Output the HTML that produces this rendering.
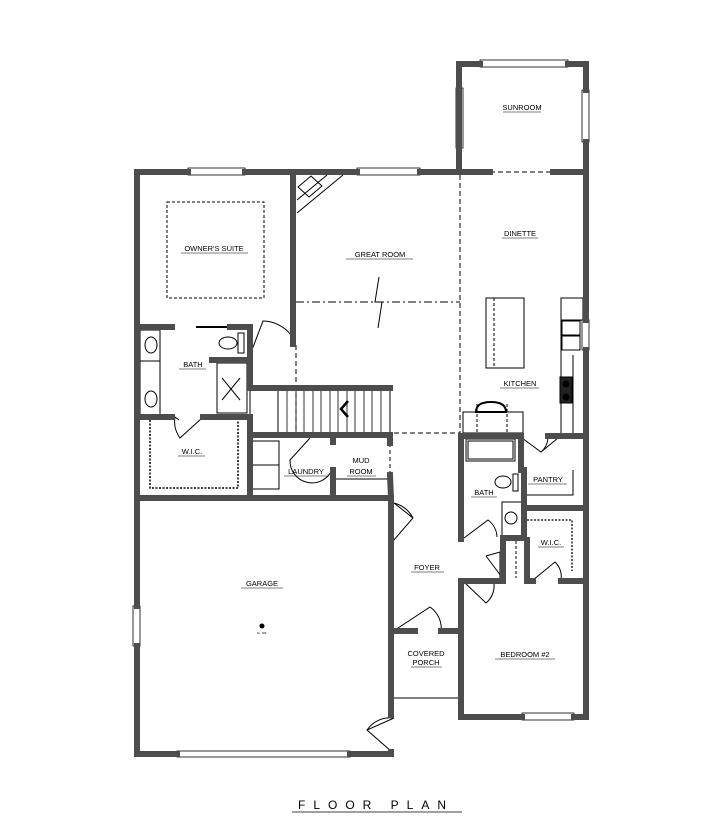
<!DOCTYPE html>
<html><head><meta charset="utf-8"><style>
html,body{margin:0;padding:0;background:#fff;}
svg{display:block;}
text{font-family:"Liberation Sans",sans-serif;font-size:7.5px;fill:#000;text-anchor:middle;}
</style></head><body>
<svg width="706" height="837" viewBox="0 0 706 837" xmlns="http://www.w3.org/2000/svg">
<g fill="none" stroke="#000" stroke-width="1">
  <line x1="296" y1="302" x2="460" y2="302" stroke-dasharray="8,3,2,3"/>
  <line x1="460" y1="175" x2="460" y2="434" stroke-dasharray="5,3"/>
  <line x1="394" y1="433" x2="460" y2="433" stroke-dasharray="5,3"/>
  <line x1="296" y1="345" x2="296" y2="433" stroke-dasharray="5,3"/>
  <rect x="167" y="202" width="97" height="96" stroke-dasharray="3,2"/>
  <line x1="490" y1="172" x2="553" y2="172" stroke-dasharray="5,3"/>
  <line x1="390" y1="443" x2="390" y2="475" stroke-dasharray="4,3"/>
  <polyline points="379,277 375,302 382,302 378,328"/>
  <polyline points="297,213 343,175"/><polyline points="297,200 327,175"/>
  <polygon points="298,187 311,176 322,186 309,197"/>
  <rect x="278" y="389" width="112" height="44"/>
  <rect x="250" y="389" width="28" height="44"/>
  <g stroke-width="0.8">
  <line x1="287" y1="389" x2="287" y2="433"/><line x1="296" y1="389" x2="296" y2="433"/><line x1="304" y1="389" x2="304" y2="433"/><line x1="313" y1="389" x2="313" y2="433"/><line x1="321" y1="389" x2="321" y2="433"/><line x1="330" y1="389" x2="330" y2="433"/><line x1="338" y1="389" x2="338" y2="433"/><line x1="347" y1="389" x2="347" y2="433"/><line x1="355" y1="389" x2="355" y2="433"/><line x1="364" y1="389" x2="364" y2="433"/><line x1="372" y1="389" x2="372" y2="433"/><line x1="381" y1="389" x2="381" y2="433"/>
  </g>
  <polyline points="348,401 341,409 348,417" stroke-width="2.5"/>
  <rect x="140" y="330" width="20" height="85"/>
  <line x1="140" y1="361" x2="160" y2="361"/>
  <ellipse cx="151" cy="345" rx="6" ry="8"/><ellipse cx="151" cy="399" rx="6" ry="8"/>
  <ellipse cx="228" cy="343" rx="9" ry="6"/><rect x="238" y="333" width="6" height="20"/>
  <rect x="217" y="363" width="30" height="50"/>
  <line x1="222" y1="378" x2="240" y2="400"/><line x1="240" y1="378" x2="222" y2="400"/>
  <line x1="196" y1="327" x2="230" y2="327" stroke-width="2"/>
  <polyline points="150,420 150,488 238,488 238,420" stroke-dasharray="2,1.5" stroke-width="1.5"/>
  <rect x="251" y="441" width="28" height="24"/><rect x="251" y="465" width="28" height="24"/>
  <line x1="335" y1="479" x2="390" y2="479"/>
  <rect x="486" y="298" width="38" height="70"/><line x1="494" y1="298" x2="494" y2="368" stroke-dasharray="3,2"/>
  <polyline points="561,298 561,433"/><polyline points="573,355 573,433"/>
  <rect x="561" y="298" width="22" height="22"/>
  <rect x="562" y="321" width="18" height="14"/><rect x="562" y="336" width="18" height="14"/>
  <rect x="560" y="377" width="12" height="26" fill="#222"/>
  <circle cx="566" cy="384" r="3" fill="#000"/><circle cx="566" cy="397" r="3" fill="#000"/>
  <rect x="463" y="412" width="60" height="21"/><line x1="477" y1="404" x2="477" y2="433" stroke-dasharray="3,2"/><line x1="507" y1="404" x2="507" y2="433" stroke-dasharray="3,2"/>
  <path d="M476,412 Q476,402 491,402 Q506,402 506,412 Z" stroke-width="2"/>
  <rect x="466" y="439" width="49" height="22"/><rect x="468" y="441" width="45" height="18"/>
  <ellipse cx="503" cy="482" rx="8" ry="6"/><rect x="513" y="474" width="5" height="17"/>
  <rect x="502" y="502" width="20" height="34"/><circle cx="511" cy="518" r="6"/>
  <line x1="516" y1="541" x2="516" y2="578" stroke-dasharray="3,2"/>
  <line x1="573" y1="470" x2="573" y2="495"/><polyline points="527,495 573,495 573,470"/>
  <polyline points="527,520 572,520 572,571" stroke-dasharray="2,1.5" stroke-width="1.3"/>
  <line x1="394" y1="698" x2="458" y2="698"/>
  <path d="M250,355 L263,321 A36,36 0 0 1 291,335"/>
  <path d="M179,420 L175,417 A28,28 0 0 0 180,438 L202,418"/>
  <path d="M310,438 L290,460 A22,22 0 0 0 332,470"/>
  <path d="M394,503 L413,518 L393,541 M394,503 A30,30 0 0 1 413,518"/>
  <path d="M392,632 L430,607 A26,26 0 0 1 441,632"/>
  <path d="M394,718 L367,730 L392,752 M394,718 A28,28 0 0 0 367,730"/>
  <path d="M522,438 L541,452 L558,438 M541,452 A20,20 0 0 0 548,438"/>
  <path d="M464,538 L488,520 A22,22 0 0 1 497,537"/>
  <path d="M486,556 L500,552 L500,582 M486,556 L504,580"/>
  <path d="M464,582 L486,603 A22,22 0 0 0 494,584"/>
  <path d="M533,580 L555,562 A20,20 0 0 1 561,580"/>
  <g fill="#fff" stroke="#000" stroke-width="0.8">
  <rect x="188" y="168" width="57" height="7"/><rect x="357" y="168" width="63" height="7"/>
  <rect x="480" y="60" width="88" height="7"/><rect x="582" y="90" width="7" height="52"/>
  <rect x="456" y="88" width="7" height="60"/><rect x="133" y="606" width="7" height="40"/>
  <rect x="522" y="713" width="52" height="7"/><rect x="177" y="751" width="173" height="6"/>
  <rect x="582" y="320" width="7" height="30"/>
  </g>
</g>
<g fill="none" stroke="#4d4d4d" stroke-width="6" stroke-linecap="square">
  <polyline points="137,172 188,172"/><polyline points="245,172 357,172"/><polyline points="420,172 459,172 459,88"/>
  <polyline points="459,148 459,64 480,64"/><polyline points="568,64 586,64 586,90"/><polyline points="586,142 586,320"/>
  <polyline points="586,350 586,717 574,717"/><polyline points="522,717 461,717 461,581 464,581"/>
  <polyline points="459,172 490,172"/><polyline points="553,172 586,172"/>
  <polyline points="137,172 137,606"/><polyline points="137,646 137,754 177,754"/><polyline points="350,754 391,754 391,752"/>
  <polyline points="391,715 391,498 137,498"/>
  <polyline points="293,172 293,344"/>
  <polyline points="140,327 172,327"/><polyline points="230,327 250,327 250,387"/><polyline points="250,345 250,355"/>
  <polyline points="212,360 250,360"/><polyline points="140,417 172,417"/><polyline points="203,417 250,417 250,495"/>
  <polyline points="250,388 390,388"/><polyline points="250,435 390,435 390,443"/><polyline points="390,475 391,498"/>
  <polyline points="333,435 333,442"/><polyline points="333,470 333,495"/>
  <polyline points="391,541 391,631 415,631"/><polyline points="441,631 461,631 461,584"/>
  <polyline points="461,436 521,436 521,470 524,470 524,538 503,538"/><polyline points="461,436 461,539"/>
  <polyline points="548,436 586,436"/><polyline points="524,508 586,508"/>
  <polyline points="503,540 503,581 461,581"/><polyline points="527,540 527,581 533,581"/><polyline points="561,581 586,581"/>
  <polyline points="464,581 486,581"/>
</g>
<g>
<text x="522" y="110">SUNROOM</text><line x1="503" y1="112" x2="541" y2="112" stroke="#000" stroke-width="0.6"/>
<text x="214" y="251">OWNER'S SUITE</text><line x1="181" y1="253" x2="248" y2="253" stroke="#000" stroke-width="0.6"/>
<text x="380" y="257">GREAT ROOM</text><line x1="346" y1="259" x2="413" y2="259" stroke="#000" stroke-width="0.6"/>
<text x="520" y="236">DINETTE</text><line x1="502" y1="238" x2="538" y2="238" stroke="#000" stroke-width="0.6"/>
<text x="193" y="367">BATH</text><line x1="179" y1="369" x2="206" y2="369" stroke="#000" stroke-width="0.6"/>
<text x="520" y="386">KITCHEN</text><line x1="500" y1="388" x2="539" y2="388" stroke="#000" stroke-width="0.6"/>
<text x="192" y="454">W.I.C.</text><line x1="178" y1="456" x2="205" y2="456" stroke="#000" stroke-width="0.6"/>
<text x="306" y="474">LAUNDRY</text><line x1="284" y1="476" x2="328" y2="476" stroke="#000" stroke-width="0.6"/>
<text x="361" y="463">MUD</text><text x="361" y="474">ROOM</text><line x1="347" y1="476" x2="376" y2="476" stroke="#000" stroke-width="0.6"/>
<text x="548" y="482">PANTRY</text><line x1="528" y1="484" x2="567" y2="484" stroke="#000" stroke-width="0.6"/>
<text x="484" y="495">BATH</text><line x1="471" y1="497" x2="497" y2="497" stroke="#000" stroke-width="0.6"/>
<text x="551" y="545">W.I.C.</text><line x1="538" y1="547" x2="564" y2="547" stroke="#000" stroke-width="0.6"/>
<text x="427" y="570">FOYER</text><line x1="411" y1="572" x2="444" y2="572" stroke="#000" stroke-width="0.6"/>
<text x="262" y="586">GARAGE</text><line x1="241" y1="588" x2="283" y2="588" stroke="#000" stroke-width="0.6"/>
<circle cx="262" cy="626" r="2.5" fill="#000"/><text x="262" y="634" style="font-size:3px">FL. DR.</text>
<text x="426" y="656">COVERED</text><text x="426" y="665">PORCH</text><line x1="411" y1="667" x2="442" y2="667" stroke="#000" stroke-width="0.6"/>
<text x="525" y="657">BEDROOM #2</text><line x1="495" y1="659" x2="555" y2="659" stroke="#000" stroke-width="0.6"/>
<text x="376" y="809" style="font-size:12px;letter-spacing:8px">FLOOR PLAN</text>
<line x1="292" y1="812" x2="462" y2="812" stroke="#000" stroke-width="0.8"/>
</g>
</svg>
</body></html>
